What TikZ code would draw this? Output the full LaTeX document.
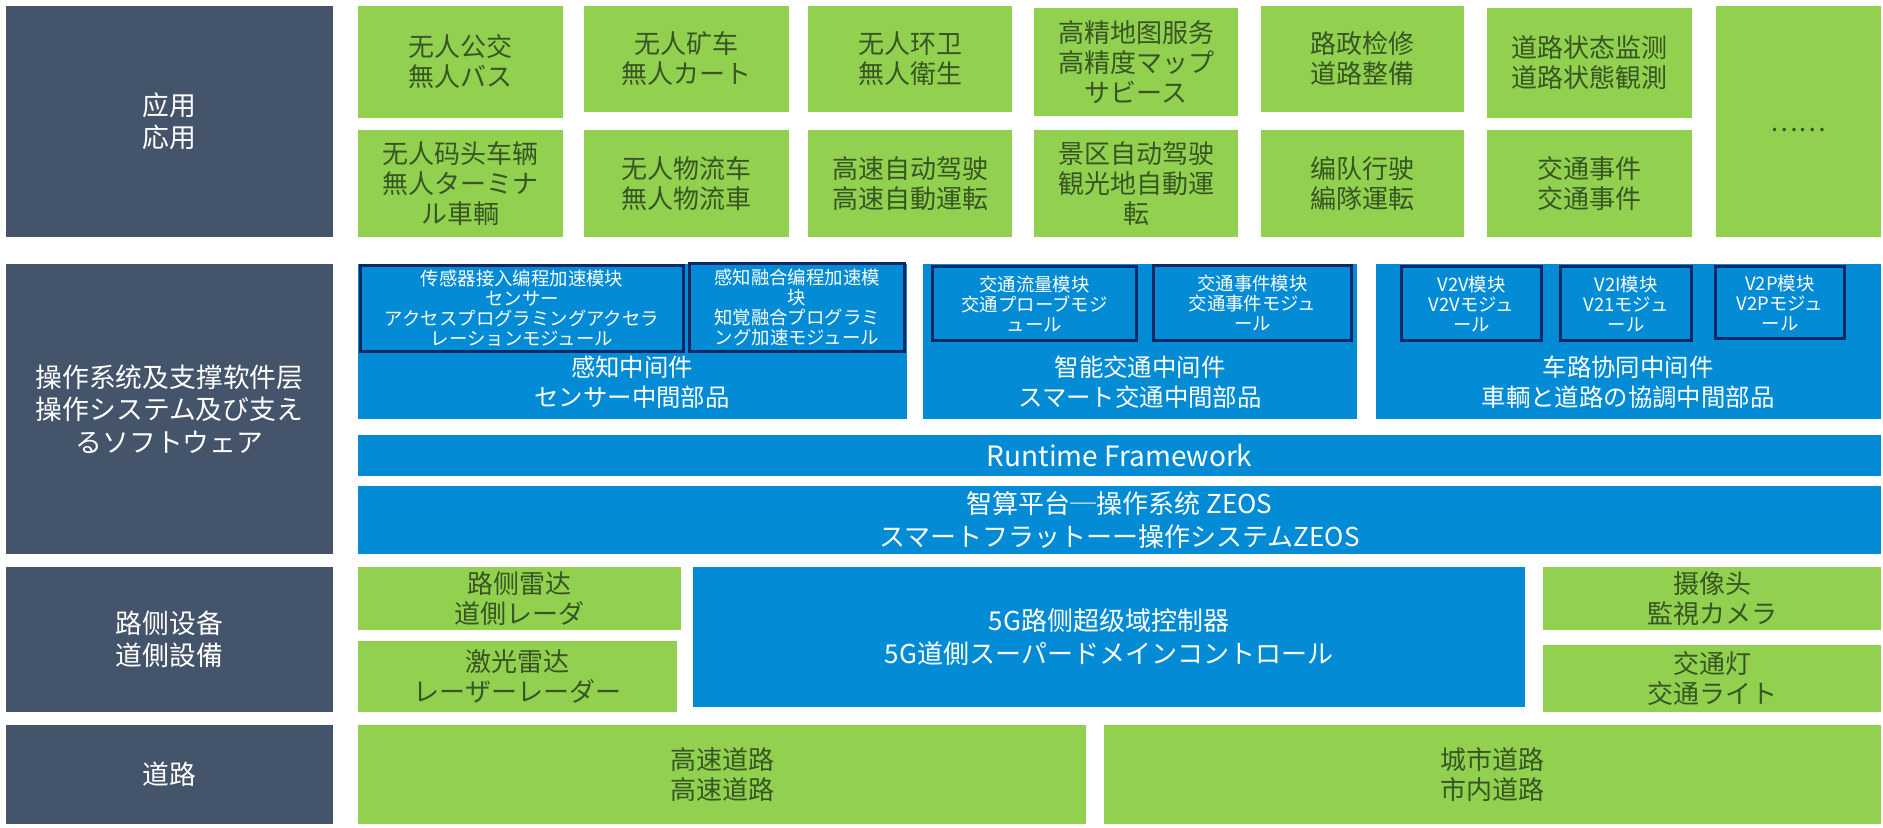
\documentclass[tikz,border=0pt]{standalone}
\usepackage{fontspec}
\setmainfont{Noto Sans CJK SC}
\definecolor{layergray}{HTML}{44546A}
\definecolor{appgreen}{HTML}{92D050}
\definecolor{apptext}{HTML}{375623}
\definecolor{midblue}{HTML}{038BD5}
\definecolor{modline}{HTML}{0B2866}
\begin{document}
\begin{tikzpicture}[x=0.5pt,y=-0.5pt]
	\tikzstyle{box}    = [rectangle, inner sep=0pt, align=center, font=\fontsize{13}{15}\selectfont]
	\tikzstyle{layer}  = [box, fill=layergray, text=white, font=\fontsize{13.4}{16.2}\selectfont]
	\tikzstyle{app}    = [box, fill=appgreen, text=apptext]
	\tikzstyle{mid}    = [box, fill=midblue, text=white]
	\tikzstyle{midtxt} = [box, text=white, font=\fontsize{12.2}{15}\selectfont]
	\tikzstyle{module} = [box, draw=modline, line width=1.3pt, fill=midblue, text=white, font=\fontsize{9.2}{10}\selectfont]

	\useasboundingbox (0,0) rectangle (1883,828);

	% layers on the left
	\foreach \name/\xa/\ya/\xb/\yb/\txt in {
			apps/6/6/333/237/{应用\\応用},
			os/6/264/333/554/{操作系统及支撑软件层\\操作システム及び支え\\るソフトウェア},
			devices/6/567/333/712/{路侧设备\\道側設備},
			roads/6/725/333/824/{道路}}
		\node[layer, minimum width={(\xb-\xa)*0.5pt}, minimum height={(\yb-\ya)*0.5pt}] (\name) at ({(\xa+\xb)/2}, {(\ya+\yb)/2}) {\txt};

	% applications, roadside devices, roads
	\foreach \name/\xa/\ya/\xb/\yb/\txt in {
			bus/358/6/563/118/{无人公交\\無人バス},
			mine/584/6/789/112/{无人矿车\\無人カート},
			sanit/808/6/1012/112/{无人环卫\\無人衛生},
			hdmap/1034/8/1238/116/{高精地图服务\\高精度マップ\\サビース},
			repair/1261/6/1464/112/{路政检修\\道路整備},
			monitor/1487/8/1692/118/{道路状态监测\\道路状態観測},
			dock/358/130/563/237/{无人码头车辆\\無人ターミナ\\ル車輌},
			logist/584/130/789/237/{无人物流车\\無人物流車},
			highway/808/130/1012/237/{高速自动驾驶\\高速自動運転},
			scenic/1034/130/1238/237/{景区自动驾驶\\観光地自動運\\転},
			platoon/1261/130/1464/237/{编队行驶\\編隊運転},
			event/1487/130/1692/237/{交通事件\\交通事件},
			more/1716/6/1881/237/{\raisebox{-1.5ex}{……}},
			radar/358/567/681/630/{路侧雷达\\道側レーダ},
			lidar/358/641/677/712/{激光雷达\\レーザーレーダー},
			camera/1543/567/1881/630/{摄像头\\監視カメラ},
			light/1543/645/1881/712/{交通灯\\交通ライト},
			expressway/358/725/1086/824/{高速道路\\高速道路},
			urban/1104/725/1881/824/{城市道路\\市内道路}}
		\node[app, minimum width={(\xb-\xa)*0.5pt}, minimum height={(\yb-\ya)*0.5pt}] (\name) at ({(\xa+\xb)/2}, {(\ya+\yb)/2}) {\txt};

	% blue software blocks
	\foreach \name/\xa/\ya/\xb/\yb/\txt in {
			sensemid/358/264/907/419/{},
			trafficmid/923/264/1357/419/{},
			vxmid/1376/264/1881/419/{},
			runtime/358/435/1881/476/{\fontsize{14}{16}\selectfont Runtime Framework},
			zeos/358/486/1881/554/{智算平台─操作系统 ZEOS\\スマートフラットーー操作システムZEOS},
			domain/693/567/1525/707/{5G路侧超级域控制器\\5G道側スーパードメインコントロール}}
		\node[mid, font=\fontsize{13}{16.5}\selectfont, minimum width={(\xb-\xa)*0.5pt}, minimum height={(\yb-\ya)*0.5pt}] (\name) at ({(\xa+\xb)/2}, {(\ya+\yb)/2}) {\txt};

	\node[midtxt] (senselabel) at (632, 382) {感知中间件\\センサー中間部品};
	\node[midtxt] (trafficlabel) at (1140, 382) {智能交通中间件\\スマート交通中間部品};
	\node[midtxt] (vxlabel) at (1628, 382) {车路协同中间件\\車輌と道路の協調中間部品};

	% modules inside the middleware
	\foreach \name/\xa/\ya/\xb/\yb/\txt in {
			access/359/264/685/353/{传感器接入编程加速模块\\センサー\\アクセスプログラミングアクセラ\\レーションモジュール},
			fusion/688/262/906/353/{感知融合编程加速模\\块\\知覚融合プログラミ\\ング加速モジュール},
			flow/931/265/1138/342/{交通流量模块\\交通プローブモジ\\ュール},
			incident/1152/264/1353/342/{交通事件模块\\交通事件モジュ\\ール},
			vtov/1400/265/1543/342/{V2V模块\\V2Vモジュ\\ール},
			vtoi/1559/265/1693/342/{V2I模块\\V21モジュ\\ール},
			vtop/1714/265/1846/340/{V2P模块\\V2Pモジュ\\ール}}
		\node[module, minimum width={(\xb-\xa)*0.5pt-1.3pt}, minimum height={(\yb-\ya)*0.5pt-1.3pt}] (\name) at ({(\xa+\xb)/2}, {(\ya+\yb)/2}) {\txt};
\end{tikzpicture}
\end{document}
